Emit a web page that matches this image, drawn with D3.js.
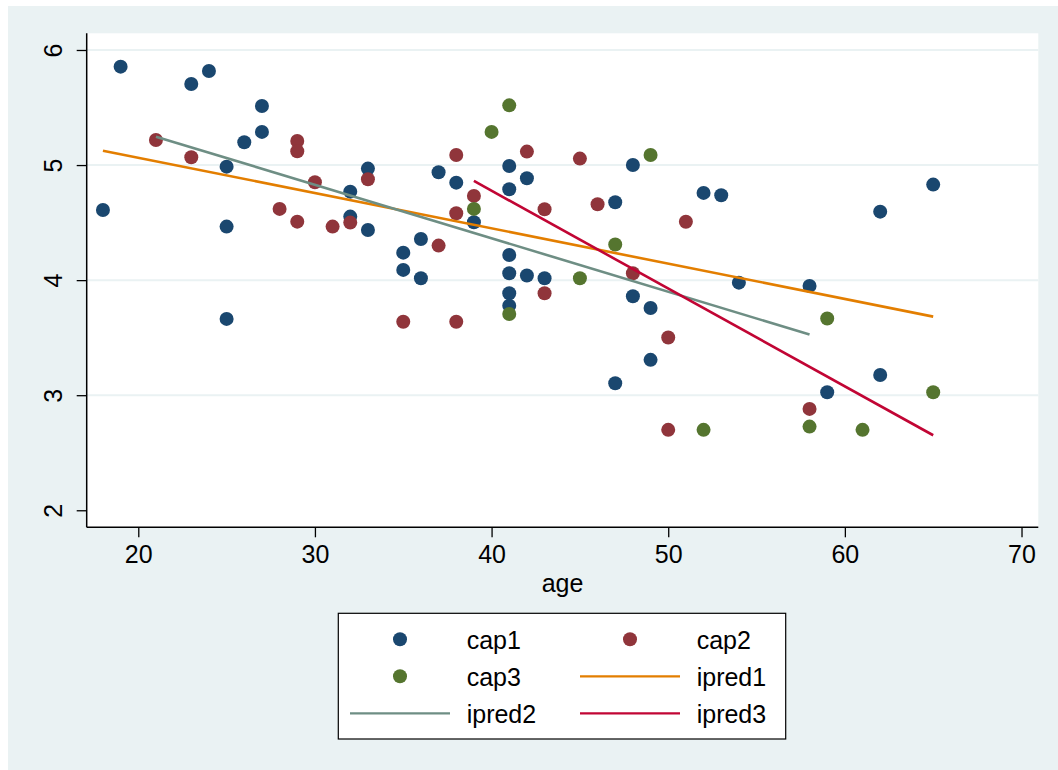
<!DOCTYPE html>
<html>
<head>
<meta charset="utf-8">
<script src="https://cdn.jsdelivr.net/npm/d3@7"></script>
<style>
  body { margin: 0; background: #ffffff; }
  text { font-family: "Liberation Sans", Arial, Helvetica, sans-serif; fill: #000; }
</style>
</head>
<body>
<script>
// scatter of cap1..cap3 against age, with fitted lines ipred1..ipred3

var cap1Age = [18, 19, 23, 24, 25, 25, 25, 26, 27, 27, 32, 32, 33, 33, 35, 35, 36, 36, 37, 38, 39,
  41, 41, 41, 41, 41, 41, 42, 42, 43, 47, 47, 48, 48, 49, 49, 52, 53, 54, 58, 59, 62, 62, 65];
var cap1Val = [4.61, 5.855, 5.705, 5.818, 4.986, 4.465, 3.663, 5.198, 5.513, 5.288, 4.769, 4.552, 4.969, 4.436,
  4.239, 4.089, 4.358, 4.016, 4.937, 4.847, 4.503, 4.992, 4.79, 4.219, 4.06, 3.886, 3.778, 4.885, 4.04,
  4.016, 4.677, 3.104, 5.0, 3.86, 3.758, 3.307, 4.758, 4.738, 3.978, 3.95, 3.026, 4.595, 3.176, 4.83];

var cap2Age = [21, 23, 28, 29, 29, 29, 30, 31, 32, 33, 35, 37, 38, 38, 38, 39, 42, 43, 43, 45, 46, 48, 50, 50, 51, 58];
var cap2Val = [5.218, 5.068, 4.619, 5.209, 5.12, 4.508, 4.851, 4.465, 4.5, 4.877, 3.638, 4.3, 5.088, 4.581,
  3.638, 4.732, 5.117, 4.616, 3.886, 5.056, 4.659, 4.06, 3.502, 2.699, 4.507, 2.881];

var cap3Age = [39, 40, 41, 41, 45, 47, 49, 52, 58, 59, 61, 65];
var cap3Val = [4.619, 5.288, 5.519, 3.706, 4.016, 4.31, 5.088, 2.699, 2.727, 3.666, 2.699, 3.026];

var ipred1Age = [18, 65];
var ipred1Val = [5.125, 3.683];
var ipred2Age = [21, 58];
var ipred2Val = [5.247, 3.527];
var ipred3Age = [39, 65];
var ipred3Val = [4.862, 2.652];

var xTicks = [20, 30, 40, 50, 60, 70];
var yTicks = [2, 3, 4, 5, 6];
var yGrid = [3, 4, 5, 6];

var createSvg = function() {
  let chartWidth = 1058, chartHeight = 770;
  let margin = { 'left': 86.7, 'top': 33.3, 'right': 19.7, 'bottom': 242.7 };
  let innerWidth = chartWidth - margin.left - margin.right;
  let innerHeight = chartHeight - margin.top - margin.bottom;
  let fontSize = 25;

  let colors = {
    'cap1': '#1a476f', 'cap2': '#90353b', 'cap3': '#55752f',
    'ipred1': '#e37e00', 'ipred2': '#6e8e84', 'ipred3': '#c10534'
  };

  let svg = d3.select('body')
    .append('svg')
    .attr('width', chartWidth)
    .attr('height', chartHeight);

  // outer graph region + white plot region
  svg.append('rect')
    .attr('x', 8).attr('y', 6)
    .attr('width', chartWidth - 8).attr('height', chartHeight - 6)
    .attr('fill', '#eaf2f3');

  let g = svg.append('g')
    .attr('transform', 'translate(' + margin.left + ',' + margin.top + ')');

  g.append('rect')
    .attr('width', innerWidth).attr('height', innerHeight)
    .attr('fill', '#ffffff');

  let x = d3.scaleLinear().domain([17.08, 70.95]).range([0, innerWidth]);
  let y = d3.scaleLinear().domain([1.852, 6.145]).range([innerHeight, 0]);

  // gridlines
  g.selectAll('.grid')
    .data(yGrid)
    .enter()
    .append('line')
    .attr('x1', 0).attr('x2', innerWidth)
    .attr('y1', d => y(d)).attr('y2', d => y(d))
    .attr('stroke', '#eaf2f3')
    .attr('stroke-width', 2);

  // scatter points
  let series = [
    { name: 'cap1', ages: cap1Age, vals: cap1Val },
    { name: 'cap2', ages: cap2Age, vals: cap2Val },
    { name: 'cap3', ages: cap3Age, vals: cap3Val }
  ];
  series.forEach(s => {
    g.append('g')
      .selectAll('circle')
      .data(s.ages.map((a, i) => [a, s.vals[i]]))
      .enter()
      .append('circle')
      .attr('cx', d => x(d[0]))
      .attr('cy', d => y(d[1]))
      .attr('r', 7)
      .attr('fill', colors[s.name]);
  });

  // fitted lines
  let lines = [
    { name: 'ipred1', ages: ipred1Age, vals: ipred1Val },
    { name: 'ipred2', ages: ipred2Age, vals: ipred2Val },
    { name: 'ipred3', ages: ipred3Age, vals: ipred3Val }
  ];
  let lineGen = d3.line().x(d => x(d[0])).y(d => y(d[1]));
  lines.forEach(l => {
    g.append('path')
      .datum(l.ages.map((a, i) => [a, l.vals[i]]))
      .attr('d', lineGen)
      .attr('fill', 'none')
      .attr('stroke', colors[l.name])
      .attr('stroke-width', 2.6);
  });

  // axes
  let xAxis = g.append('g')
    .attr('transform', 'translate(0,' + innerHeight + ')')
    .call(d3.axisBottom(x).tickValues(xTicks).tickFormat(d3.format('d'))
      .tickSize(10).tickSizeOuter(0).tickPadding(8));
  let yAxis = g.append('g')
    .call(d3.axisLeft(y).tickValues(yTicks).tickFormat(d3.format('d'))
      .tickSize(10).tickSizeOuter(0));

  [xAxis, yAxis].forEach(a => {
    a.select('.domain').attr('stroke', '#000').attr('stroke-width', 1.5);
    a.selectAll('.tick line').attr('stroke', '#000').attr('stroke-width', 1.3);
    a.selectAll('text').style('font-size', fontSize + 'px').attr('fill', '#000');
  });
  xAxis.select('.domain').attr('d', 'M0,0H' + innerWidth);
  yAxis.select('.domain').attr('d', 'M0,' + innerHeight + 'V0');

  xAxis.selectAll('.tick text').attr('dy', null).attr('y', 35.5);
  yAxis.selectAll('.tick text')
    .attr('x', null).attr('dy', null)
    .attr('text-anchor', 'middle')
    .attr('transform', 'translate(-24.7,0) rotate(-90)');

  // axis title
  g.append('text')
    .attr('x', innerWidth / 2)
    .attr('y', innerHeight + 64.4)
    .attr('text-anchor', 'middle')
    .style('font-size', fontSize + 'px')
    .text('age');

  // legend
  let legend = svg.append('g');
  legend.append('rect')
    .attr('x', 338.3).attr('y', 613.3)
    .attr('width', 447.4).attr('height', 125.7)
    .attr('fill', '#ffffff')
    .attr('stroke', '#000')
    .attr('stroke-width', 1.2);

  let legendItems = [
    { name: 'cap1', kind: 'dot' }, { name: 'cap2', kind: 'dot' },
    { name: 'cap3', kind: 'dot' }, { name: 'ipred1', kind: 'line' },
    { name: 'ipred2', kind: 'line' }, { name: 'ipred3', kind: 'line' }
  ];
  let keyX = [400, 630], textX = [466.7, 696.7], rowY = [639.3, 676.3, 713.3];

  legendItems.forEach((d, i) => {
    let col = i % 2, row = Math.floor(i / 2);
    if (d.kind === 'dot') {
      legend.append('circle')
        .attr('cx', keyX[col]).attr('cy', rowY[row])
        .attr('r', 7)
        .attr('fill', colors[d.name]);
    } else {
      legend.append('line')
        .attr('x1', keyX[col] - 50).attr('x2', keyX[col] + 50)
        .attr('y1', rowY[row]).attr('y2', rowY[row])
        .attr('stroke', colors[d.name])
        .attr('stroke-width', 2.2);
    }
    legend.append('text')
      .attr('x', textX[col])
      .attr('y', rowY[row] + 9.5)
      .style('font-size', fontSize + 'px')
      .text(d.name);
  });
}

var load = function() {
  createSvg();
}

load();
</script>
</body>
</html>
